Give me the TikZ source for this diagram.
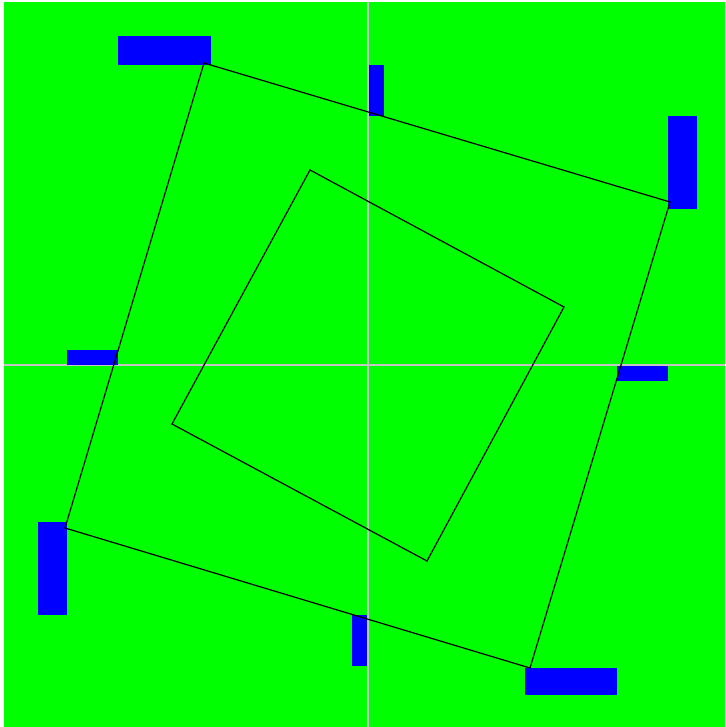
\documentclass[tikz,border=0pt]{standalone}
\usepackage{tikz}

\definecolor{bggreen}{rgb}{0,1,0}
\definecolor{barblue}{rgb}{0,0,1}
\definecolor{axisgray}{RGB}{196,196,196}

\begin{document}
\begin{tikzpicture}[x=1pt,y=-1pt,
    bar/.style={rectangle,fill=barblue,draw=none,inner sep=0pt,outer sep=0pt},
    edge/.style={draw=black,line width=1.2pt,line join=miter}]
    \useasboundingbox (0,0) rectangle (725,727);
    \fill[bggreen] (4,2) rectangle (725,727);

    % axes
    \draw[axisgray,line width=1.6pt]
    (4,365)coordinate(xl) (725,365)coordinate(xr)
    (368,2)coordinate(yt) (368,727)coordinate(yb);
    \draw[axisgray,line width=1.6pt] (xl) -- (xr) (yt) -- (yb);

    % blue bars
    \path
    (211,65)node[bar,anchor=south east,minimum width=93pt,minimum height=29pt](nw){}
    (369,116)node[bar,anchor=south west,minimum width=15pt,minimum height=51pt](n){}
    (668,116)node[bar,anchor=north west,minimum width=29pt,minimum height=93pt](ne){}
    (118,365)node[bar,anchor=south east,minimum width=51pt,minimum height=15pt](w){}
    (617,366)node[bar,anchor=north west,minimum width=51pt,minimum height=15pt](e){}
    (67,522)node[bar,anchor=north east,minimum width=29pt,minimum height=93pt](sw){}
    (367,615)node[bar,anchor=north east,minimum width=15pt,minimum height=51pt](s){}
    (525,668)node[bar,anchor=north west,minimum width=92pt,minimum height=27pt](se){}
    ;

    % outer square
    \coordinate (o1) at (204,63);
    \coordinate (o2) at (670,202);
    \coordinate (o3) at (530,668);
    \coordinate (o4) at (65,528);
    \draw[edge] (o1) -- (o2) -- (o3) -- (o4) -- cycle;

    % inner square
    \coordinate (i1) at (310,170);
    \coordinate (i2) at (564,307);
    \coordinate (i3) at (427,561);
    \coordinate (i4) at (172,424);
    \draw[edge] (i1) -- (i2) -- (i3) -- (i4) -- cycle;
\end{tikzpicture}
\end{document}
